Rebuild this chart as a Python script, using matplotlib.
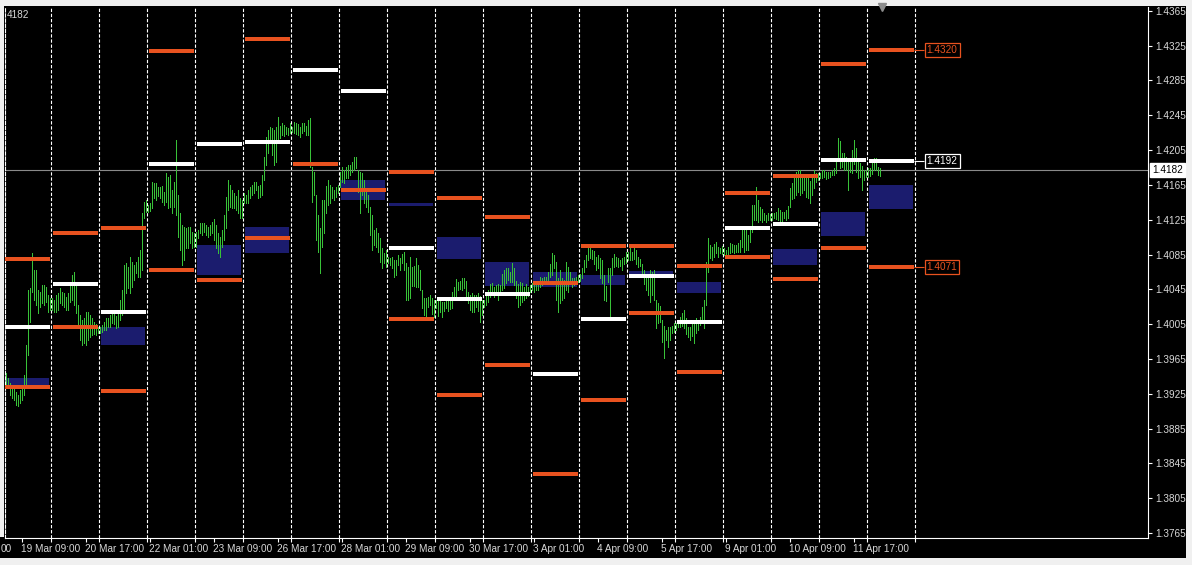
import matplotlib
matplotlib.use('Agg')
import matplotlib.pyplot as plt
from matplotlib.patches import Rectangle
from matplotlib.transforms import blended_transform_factory

plt.rcParams['font.family'] = ['Liberation Sans', 'DejaVu Sans']

W, H = 1192, 565

# hourly bars (high / low), one row per trading day, 19 Mar .. 12 Apr
day_high = [
    [1.3947, 1.3949, 1.3943, 1.3937, 1.3935, 1.3932, 1.3927, 1.3924, 1.3929, 1.3935, 1.3947, 1.3981, 1.4044, 1.4047, 1.4087, 1.4067, 1.4067, 1.4044, 1.4042, 1.4050, 1.4050, 1.4048, 1.4038, 1.4035],
    [1.4035, 1.4033, 1.4038, 1.4041, 1.4047, 1.4042, 1.4041, 1.4036, 1.4041, 1.4053, 1.4061, 1.4065, 1.4050, 1.4027, 1.4016, 1.4010, 1.4012, 1.4019, 1.4019, 1.4016, 1.4012, 1.4007, 1.4005, 1.4002],
    [1.4002, 1.4004, 1.4007, 1.4012, 1.4012, 1.4016, 1.4018, 1.4017, 1.4014, 1.4021, 1.4033, 1.4044, 1.4073, 1.4075, 1.4071, 1.4082, 1.4076, 1.4073, 1.4076, 1.4082, 1.4090, 1.4133, 1.4145, 1.4148],
    [1.4142, 1.4144, 1.4168, 1.4167, 1.4167, 1.4163, 1.4163, 1.4164, 1.4157, 1.4179, 1.4174, 1.4176, 1.4159, 1.4168, 1.4217, 1.4153, 1.4133, 1.4119, 1.4117, 1.4115, 1.4117, 1.4117, 1.4111, 1.4110],
    [1.4111, 1.4113, 1.4121, 1.4121, 1.4121, 1.4119, 1.4117, 1.4119, 1.4122, 1.4126, 1.4119, 1.4110, 1.4105, 1.4113, 1.4130, 1.4151, 1.4171, 1.4165, 1.4159, 1.4156, 1.4152, 1.4159, 1.4150, 1.4148],
    [1.4156, 1.4153, 1.4159, 1.4163, 1.4165, 1.4168, 1.4168, 1.4164, 1.4165, 1.4176, 1.4197, 1.4220, 1.4228, 1.4232, 1.4230, 1.4228, 1.4232, 1.4243, 1.4233, 1.4236, 1.4234, 1.4232, 1.4230, 1.4236],
    [1.4232, 1.4237, 1.4236, 1.4235, 1.4232, 1.4236, 1.4236, 1.4233, 1.4240, 1.4242, 1.4186, 1.4180, 1.4153, 1.4130, 1.4115, 1.4148, 1.4148, 1.4164, 1.4171, 1.4165, 1.4163, 1.4159, 1.4163, 1.4165],
    [1.4180, 1.4186, 1.4182, 1.4186, 1.4188, 1.4188, 1.4191, 1.4197, 1.4197, 1.4182, 1.4180, 1.4179, 1.4171, 1.4159, 1.4153, 1.4140, 1.4130, 1.4113, 1.4115, 1.4110, 1.4104, 1.4092, 1.4087, 1.4090],
    [1.4082, 1.4081, 1.4082, 1.4079, 1.4079, 1.4084, 1.4081, 1.4086, 1.4088, 1.4075, 1.4071, 1.4082, 1.4071, 1.4072, 1.4081, 1.4073, 1.4067, 1.4044, 1.4035, 1.4035, 1.4036, 1.4038, 1.4035, 1.4033],
    [1.4033, 1.4033, 1.4032, 1.4030, 1.4030, 1.4033, 1.4034, 1.4036, 1.4042, 1.4048, 1.4057, 1.4053, 1.4055, 1.4058, 1.4058, 1.4055, 1.4042, 1.4038, 1.4041, 1.4038, 1.4038, 1.4041, 1.4037, 1.4033],
    [1.4033, 1.4037, 1.4044, 1.4051, 1.4052, 1.4048, 1.4050, 1.4051, 1.4050, 1.4063, 1.4067, 1.4070, 1.4070, 1.4065, 1.4075, 1.4070, 1.4055, 1.4051, 1.4053, 1.4052, 1.4048, 1.4051, 1.4048, 1.4050],
    [1.4052, 1.4052, 1.4053, 1.4052, 1.4059, 1.4058, 1.4059, 1.4059, 1.4065, 1.4074, 1.4087, 1.4084, 1.4076, 1.4058, 1.4067, 1.4058, 1.4056, 1.4076, 1.4071, 1.4065, 1.4058, 1.4058, 1.4059, 1.4061],
    [1.4063, 1.4070, 1.4079, 1.4084, 1.4094, 1.4092, 1.4090, 1.4089, 1.4082, 1.4084, 1.4081, 1.4079, 1.4061, 1.4049, 1.4070, 1.4070, 1.4081, 1.4086, 1.4082, 1.4081, 1.4079, 1.4081, 1.4082, 1.4088],
    [1.4088, 1.4094, 1.4088, 1.4094, 1.4090, 1.4082, 1.4080, 1.4074, 1.4067, 1.4063, 1.4059, 1.4067, 1.4065, 1.4067, 1.4033, 1.4029, 1.4026, 1.4010, 1.4003, 1.3998, 1.4002, 1.4002, 1.4003, 1.4006],
    [1.4006, 1.4010, 1.4013, 1.4018, 1.4021, 1.4012, 1.4002, 1.4002, 1.4007, 1.4007, 1.4012, 1.4010, 1.4013, 1.4025, 1.4033, 1.4076, 1.4104, 1.4096, 1.4094, 1.4097, 1.4099, 1.4094, 1.4092, 1.4095],
    [1.4092, 1.4090, 1.4094, 1.4098, 1.4097, 1.4096, 1.4096, 1.4098, 1.4102, 1.4115, 1.4115, 1.4113, 1.4107, 1.4113, 1.4142, 1.4142, 1.4163, 1.4148, 1.4140, 1.4137, 1.4133, 1.4130, 1.4133, 1.4132],
    [1.4133, 1.4133, 1.4134, 1.4138, 1.4136, 1.4134, 1.4134, 1.4136, 1.4141, 1.4161, 1.4167, 1.4174, 1.4180, 1.4182, 1.4182, 1.4176, 1.4174, 1.4173, 1.4173, 1.4169, 1.4176, 1.4182, 1.4179, 1.4179],
    [1.4179, 1.4182, 1.4182, 1.4180, 1.4180, 1.4180, 1.4182, 1.4184, 1.4194, 1.4219, 1.4215, 1.4202, 1.4202, 1.4197, 1.4194, 1.4196, 1.4205, 1.4217, 1.4207, 1.4196, 1.4190, 1.4187, 1.4182, 1.4182],
    [1.4184, 1.4184, 1.4191, 1.4196, 1.4196, 1.4186, 1.4184],
]
day_low = [
    [1.3937, 1.3935, 1.3932, 1.3924, 1.3920, 1.3918, 1.3912, 1.3911, 1.3914, 1.3918, 1.3924, 1.3935, 1.3970, 1.4007, 1.4042, 1.4033, 1.4027, 1.4018, 1.4025, 1.4029, 1.4027, 1.4030, 1.4019, 1.4021],
    [1.4021, 1.4019, 1.4019, 1.4021, 1.4029, 1.4027, 1.4025, 1.4021, 1.4021, 1.4030, 1.4033, 1.4027, 1.4018, 1.4004, 1.3987, 1.3981, 1.3983, 1.3981, 1.3987, 1.3990, 1.3993, 1.3994, 1.3993, 1.3995],
    [1.3995, 1.3996, 1.3998, 1.3998, 1.4002, 1.4002, 1.4006, 1.4005, 1.4001, 1.4002, 1.4010, 1.4016, 1.4018, 1.4041, 1.4047, 1.4041, 1.4048, 1.4056, 1.4064, 1.4059, 1.4059, 1.4067, 1.4127, 1.4134],
    [1.4134, 1.4135, 1.4138, 1.4150, 1.4148, 1.4152, 1.4150, 1.4145, 1.4142, 1.4145, 1.4138, 1.4140, 1.4133, 1.4140, 1.4130, 1.4105, 1.4090, 1.4073, 1.4079, 1.4092, 1.4092, 1.4098, 1.4092, 1.4094],
    [1.4094, 1.4104, 1.4110, 1.4107, 1.4111, 1.4107, 1.4105, 1.4107, 1.4110, 1.4102, 1.4092, 1.4087, 1.4082, 1.4094, 1.4102, 1.4115, 1.4136, 1.4140, 1.4138, 1.4138, 1.4136, 1.4133, 1.4127, 1.4127],
    [1.4144, 1.4144, 1.4144, 1.4150, 1.4153, 1.4156, 1.4159, 1.4150, 1.4151, 1.4153, 1.4171, 1.4188, 1.4202, 1.4213, 1.4199, 1.4188, 1.4191, 1.4217, 1.4219, 1.4222, 1.4221, 1.4223, 1.4222, 1.4225],
    [1.4226, 1.4225, 1.4223, 1.4222, 1.4220, 1.4225, 1.4227, 1.4222, 1.4222, 1.4186, 1.4145, 1.4153, 1.4102, 1.4088, 1.4064, 1.4094, 1.4110, 1.4133, 1.4142, 1.4144, 1.4150, 1.4148, 1.4151, 1.4156],
    [1.4163, 1.4168, 1.4167, 1.4173, 1.4173, 1.4176, 1.4180, 1.4182, 1.4184, 1.4157, 1.4133, 1.4153, 1.4144, 1.4140, 1.4134, 1.4107, 1.4090, 1.4096, 1.4094, 1.4088, 1.4076, 1.4070, 1.4075, 1.4071],
    [1.4075, 1.4073, 1.4070, 1.4059, 1.4061, 1.4073, 1.4067, 1.4075, 1.4067, 1.4033, 1.4033, 1.4035, 1.4049, 1.4049, 1.4048, 1.4048, 1.4044, 1.4024, 1.4016, 1.4010, 1.4025, 1.4027, 1.4017, 1.4013],
    [1.4024, 1.4014, 1.4019, 1.4013, 1.4020, 1.4024, 1.4020, 1.4022, 1.4024, 1.4033, 1.4036, 1.4044, 1.4045, 1.4044, 1.4047, 1.4035, 1.4029, 1.4021, 1.4019, 1.4019, 1.4025, 1.4020, 1.4007, 1.4016],
    [1.4025, 1.4027, 1.4030, 1.4036, 1.4040, 1.4036, 1.4041, 1.4033, 1.4038, 1.4044, 1.4047, 1.4052, 1.4056, 1.4053, 1.4053, 1.4050, 1.4035, 1.4025, 1.4027, 1.4030, 1.4033, 1.4035, 1.4037, 1.4042],
    [1.4044, 1.4042, 1.4044, 1.4044, 1.4048, 1.4050, 1.4051, 1.4052, 1.4053, 1.4059, 1.4061, 1.4070, 1.4033, 1.4019, 1.4029, 1.4033, 1.4035, 1.4044, 1.4042, 1.4052, 1.4048, 1.4050, 1.4052, 1.4053],
    [1.4055, 1.4058, 1.4065, 1.4071, 1.4079, 1.4081, 1.4080, 1.4074, 1.4067, 1.4070, 1.4058, 1.4052, 1.4033, 1.4032, 1.4053, 1.4012, 1.4061, 1.4071, 1.4072, 1.4071, 1.4072, 1.4067, 1.4074, 1.4075],
    [1.4079, 1.4079, 1.4079, 1.4080, 1.4074, 1.4071, 1.4072, 1.4060, 1.4051, 1.4044, 1.4038, 1.4030, 1.4038, 1.4033, 1.4001, 1.4006, 1.4007, 1.3984, 1.3966, 1.3987, 1.3979, 1.3987, 1.3995, 1.3996],
    [1.3998, 1.4002, 1.4002, 1.4003, 1.4001, 1.3994, 1.3990, 1.3987, 1.3991, 1.3983, 1.3995, 1.3998, 1.4004, 1.4007, 1.4001, 1.4027, 1.4065, 1.4081, 1.4079, 1.4082, 1.4087, 1.4082, 1.4087, 1.4086],
    [1.4084, 1.4082, 1.4082, 1.4087, 1.4088, 1.4087, 1.4088, 1.4088, 1.4088, 1.4094, 1.4088, 1.4090, 1.4090, 1.4099, 1.4111, 1.4125, 1.4125, 1.4122, 1.4125, 1.4122, 1.4125, 1.4122, 1.4125, 1.4125],
    [1.4125, 1.4127, 1.4126, 1.4125, 1.4120, 1.4124, 1.4127, 1.4125, 1.4127, 1.4140, 1.4149, 1.4150, 1.4153, 1.4157, 1.4153, 1.4156, 1.4159, 1.4151, 1.4150, 1.4144, 1.4153, 1.4161, 1.4168, 1.4171],
    [1.4173, 1.4173, 1.4174, 1.4172, 1.4173, 1.4174, 1.4176, 1.4176, 1.4179, 1.4194, 1.4184, 1.4186, 1.4182, 1.4182, 1.4159, 1.4180, 1.4179, 1.4189, 1.4180, 1.4173, 1.4174, 1.4159, 1.4171, 1.4174],
    [1.4174, 1.4175, 1.4178, 1.4182, 1.4182, 1.4176, 1.4175],
]

# daily levels: white pivot line, orange lines, navy zone (top, bottom)
pivot = [1.4002, 1.4051, 1.4019, 1.4189, 1.4212, 1.4214, 1.4297, 1.4273, 1.4092, 1.4034,
         1.4040, 1.3948, 1.4011, 1.4060, 1.4007, 1.4115, 1.4120, 1.4194, 1.4192]
orange_levels = [
    [1.4080, 1.3933], [1.4110, 1.4002], [1.4115, 1.3928], [1.4319, 1.4067], [1.4056],
    [1.4333, 1.4104], [1.4189], [1.4159], [1.4180, 1.4011], [1.4150, 1.3924],
    [1.4128, 1.3958], [1.4052, 1.3833], [1.4095, 1.3918], [1.4095, 1.4018], [1.4072, 1.3950],
    [1.4156, 1.4082], [1.4175, 1.4057], [1.4304, 1.4093], [1.4320, 1.4071],
]
zones = [
    (1.3943, 1.3934), None, (1.4002, 1.3981), None, (1.4096, 1.4061),
    (1.4117, 1.4087), None, (1.4171, 1.4148), (1.4144, 1.4141), (1.4105, 1.4080),
    (1.4076, 1.4049), (1.4065, 1.4048), (1.4061, 1.4050), (1.4066, 1.4063), (1.4053, 1.4041),
    None, (1.4091, 1.4073), (1.4134, 1.4106), (1.4165, 1.4137),
]

price_ticks = [1.3765, 1.3805, 1.3845, 1.3885, 1.3925, 1.3965, 1.4005, 1.4045,
               1.4085, 1.4125, 1.4165, 1.4205, 1.4245, 1.4285, 1.4325, 1.4365]
time_labels = ['19 Mar 09:00', '20 Mar 17:00', '22 Mar 01:00', '23 Mar 09:00',
               '26 Mar 17:00', '28 Mar 01:00', '29 Mar 09:00', '30 Mar 17:00', '3 Apr 01:00',
               '4 Apr 09:00', '5 Apr 17:00', '9 Apr 01:00', '10 Apr 09:00', '11 Apr 17:00']
edge_label = '00'      # tail of the previous time label, visible at the left edge
corner_quote = '4182'
last_price = 1.4182

ORANGE = '#e8521f'
NAVY = '#1b1c6e'
GREEN = '#38c238'
TXT = '#d8d8d8'
FS = 7.2
N = 24  # bars per day

xs, hi, lo = [], [], []
for d in range(len(day_high)):
    for j in range(len(day_high[d])):
        xs.append(d * N + j)
        hi.append(day_high[d][j])
        lo.append(day_low[d][j])

fig = plt.figure(figsize=(W / 100, H / 100), dpi=100, facecolor='#f0f0f0')
fig.patches.append(Rectangle((4 / W, 7 / H), 1182 / W, 552 / H, transform=fig.transFigure,
                             fc='black', ec='none', zorder=-5))
fig.patches.append(Rectangle((0, 7 / H), 6 / W, 21 / H, transform=fig.transFigure,
                             fc='black', ec='none', zorder=-5))
ax = fig.add_axes([5 / W, 27 / H, 1143 / W, 531 / H], facecolor='black')
ax.set_xlim(0.35, 571.85)
ax.set_ylim(1.37593, 1.43694)

# day separators
seps = [d * N - 0.5 for d in range(1, len(day_high) + 1)]
for s in seps:
    ax.axvline(s, color='white', lw=0.8, ls=(0, (3, 1.6)), zorder=2)

# zones and level lines
for d in range(len(day_high)):
    x0 = d * N
    if zones[d] is not None:
        top, bot = zones[d]
        ax.add_patch(Rectangle((x0 + 0.2, bot), 22.2, top - bot, fc=NAVY, ec='none', zorder=1))
    for v in orange_levels[d]:
        ax.hlines(v, x0 + 0.5, x0 + 23, color=ORANGE, lw=1.5, antialiased=False, zorder=4)
    ax.hlines(pivot[d], x0 + 0.5, x0 + 23, color='white', lw=1.5, antialiased=False, zorder=4)

# current price line
ax.axhline(last_price, color='#8a8a8a', lw=0.8, zorder=2.5)

# price bars
ax.vlines(xs, lo, hi, color=GREEN, lw=0.6, antialiased=False, zorder=3)

# labels for the running day
last = len(day_high) - 1
lab_x = last * N + 28
for v, c in [(orange_levels[last][0], ORANGE), (pivot[last], 'white'), (orange_levels[last][1], ORANGE)]:
    ax.hlines(v, last * N + 23, lab_x, color=c, lw=0.8, zorder=4)
    ax.text(lab_x + 1.2, v, f'{v:.4f}', color=c, fontsize=FS, ha='left', va='center', zorder=6,
            bbox=dict(boxstyle='square,pad=0.2', fc='black', ec=c, lw=0.9))

# shift marker on top
ax.plot([len(xs)], [1.43694], marker='v', ms=6, color='#8c8c8c', clip_on=False, zorder=7)

# axes styling
ax.spines['top'].set_visible(False)
ax.spines['right'].set_color('white')
ax.spines['bottom'].set_color('white')
ax.spines['left'].set_color('white')
ax.spines['left'].set_linestyle((0, (3, 1.6)))
ax.spines['left'].set_linewidth(0.8)

ax.yaxis.tick_right()
ax.set_yticks(price_ticks)
ax.set_yticklabels([f'{p:.4f}' for p in price_ticks])
ax.tick_params(axis='y', colors='white', labelcolor=TXT, length=3, width=0.8, pad=2, labelsize=FS)

label_x = [9 + 32 * i for i in range(len(time_labels))]
ax.set_xticks(label_x)
ax.set_xticklabels([])
ax.set_xticks(seps, minor=True)
ax.tick_params(axis='x', which='both', colors='white', length=3, width=0.8)
for x, t in zip(label_x, time_labels):
    ax.annotate(t, xy=(x, 0), xycoords=('data', 'axes fraction'), xytext=(-1, -4),
                textcoords='offset points', ha='left', va='top', color=TXT, fontsize=FS,
                annotation_clip=False)
ax.annotate(edge_label, xy=(0, 0), xycoords='axes fraction', xytext=(-3.3, -4),
            textcoords='offset points', ha='left', va='top', color=TXT, fontsize=FS,
            annotation_clip=False)

# price tag on the axis and the quote in the corner
ytr = blended_transform_factory(ax.transAxes, ax.transData)
ax.text(1.0 + 4 / 1143, last_price, f'{last_price:.4f}', transform=ytr, ha='left', va='center',
        color='black', fontsize=FS, clip_on=False, zorder=10,
        bbox=dict(boxstyle='square,pad=0.2', fc='white', ec='white'))
ax.text(1.5 / 1143, 0.985, corner_quote, transform=ax.transAxes, ha='left', va='center',
        color=TXT, fontsize=FS)

fig.savefig('out.png', dpi=100, facecolor=fig.get_facecolor())
